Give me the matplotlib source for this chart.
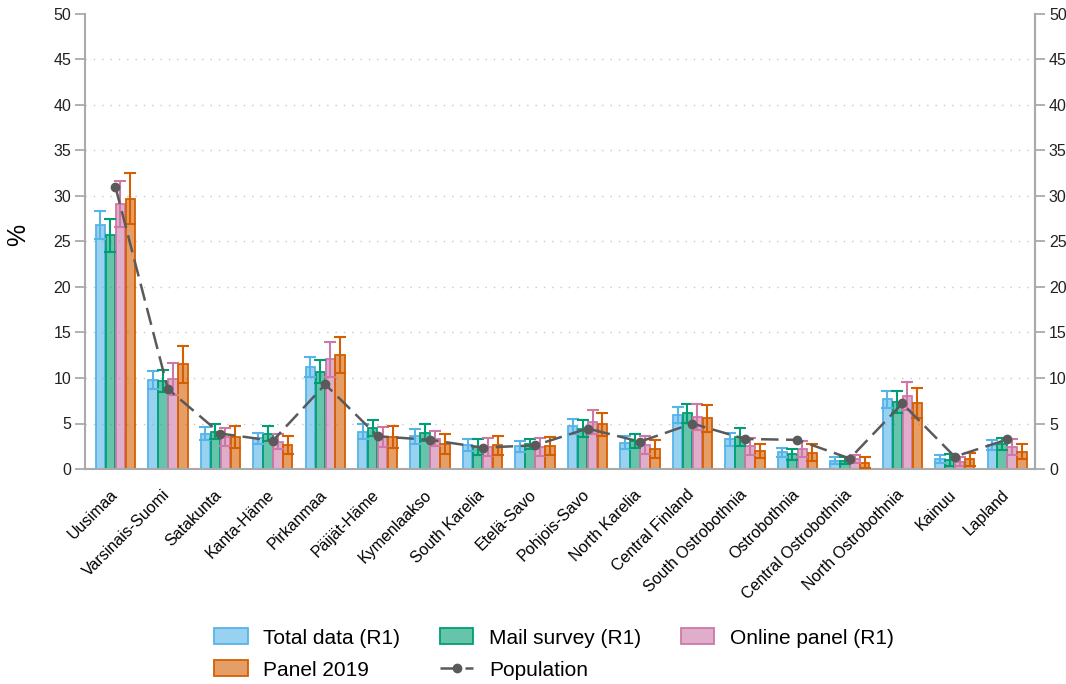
import numpy as np
import matplotlib as mpl
mpl.use('Agg')
import matplotlib.pyplot as plt
import matplotlib.transforms as mtransforms

plt.rcParams['font.family'] = ['Liberation Sans', 'DejaVu Sans']

regions = ["Uusimaa", "Varsinais-Suomi", "Satakunta", "Kanta-Häme", "Pirkanmaa",
           "Päijät-Häme", "Kymenlaakso", "South Karelia", "Etelä-Savo", "Pohjois-Savo",
           "North Karelia", "Central Finland", "South Ostrobothnia", "Ostrobothnia",
           "Central Ostrobothnia", "North Ostrobothnia", "Kainuu", "Lapland"]

total = [26.8, 9.8, 3.9, 3.4, 11.2, 4.1, 3.6, 2.6, 2.5, 4.7, 2.9, 5.95, 3.25, 1.85, 0.9, 7.65, 1.1, 2.65]
total_err = [1.5, 1.0, 0.7, 0.6, 1.1, 0.8, 0.8, 0.65, 0.6, 0.8, 0.7, 0.9, 0.75, 0.5, 0.4, 0.9, 0.45, 0.55]
mail = [25.7, 9.7, 4.1, 3.9, 10.7, 4.5, 4.0, 2.4, 2.75, 4.45, 3.1, 6.1, 3.5, 1.6, 0.9, 7.4, 1.0, 2.75]
mail_err = [1.8, 1.2, 0.8, 0.8, 1.3, 0.85, 0.9, 0.9, 0.6, 0.9, 0.75, 1.05, 1.0, 0.6, 0.4, 1.2, 0.7, 0.7]
online = [29.1, 9.9, 3.55, 3.0, 12.05, 3.55, 3.35, 2.4, 2.4, 5.2, 2.6, 5.7, 2.5, 2.2, 1.1, 8.0, 0.8, 2.4]
online_err = [2.5, 1.8, 1.0, 0.8, 1.9, 1.1, 0.85, 1.0, 1.0, 1.3, 1.0, 1.45, 0.95, 0.9, 0.45, 1.55, 0.5, 0.9]
panel = [29.7, 11.5, 3.55, 2.6, 12.5, 3.55, 2.8, 2.6, 2.5, 4.9, 2.2, 5.55, 2.0, 1.8, 0.7, 7.3, 1.05, 1.9]
panel_err = [2.8, 2.0, 1.2, 1.0, 2.0, 1.2, 1.1, 1.05, 1.0, 1.3, 0.95, 1.5, 0.8, 0.9, 0.6, 1.65, 0.75, 0.85]
population = [31.0, 8.8, 3.9, 3.1, 9.3, 3.6, 3.2, 2.35, 2.6, 4.45, 3.0, 5.0, 3.3, 3.2, 1.15, 7.2, 1.35, 3.25]

series = [
    ("Total data (R1)", total, total_err, "#56B4E9"),
    ("Mail survey (R1)", mail, mail_err, "#009E73"),
    ("Online panel (R1)", online, online_err, "#CC79A7"),
    ("Panel 2019", panel, panel_err, "#D55E00"),
]

fig = plt.figure(figsize=(10.66, 6.84), dpi=100)
ax = fig.add_axes([85 / 1066, 1 - 469 / 684, 950 / 1066, 455 / 684])

x = np.arange(len(regions))
w = 0.18
step = 0.19
handles = {}
for i, (name, vals, errs, col) in enumerate(series):
    pos = x + (i - 1.5) * step
    b = ax.bar(pos, vals, width=w, color=mpl.colors.to_rgba(col, 0.6),
               edgecolor=col, linewidth=1.3, zorder=2, label=name)
    ax.errorbar(pos, vals, yerr=errs, fmt='none', ecolor=col, elinewidth=1.5,
                capsize=4, capthick=1.5, zorder=3)
    handles[name] = b

pop_line, = ax.plot(x, population, color="#5a5a5a", lw=1.8, linestyle=(0, (7, 3)),
                    marker='o', markersize=6, zorder=5, label="Population")

ax.set_ylim(0, 50)
ax.set_xlim(-0.58, len(regions) - 0.47)
ax.set_yticks(range(0, 51, 5))
for yv in range(5, 50, 5):
    ax.axhline(yv, color="#c8c8c8", lw=1, linestyle=(0, (1, 5)), zorder=0)

ax.set_xticks(x)
ax.set_xticklabels(regions, rotation=45, ha='right', rotation_mode='anchor', fontsize=11.5)
ax.tick_params(axis='x', length=0, pad=13)
# nudge the rotated labels so their ends sit under the group centres
shift = mtransforms.ScaledTranslation(-6 / 100, 0, fig.dpi_scale_trans)
for lbl in ax.get_xticklabels():
    lbl.set_transform(lbl.get_transform() + shift)
ax.tick_params(axis='y', direction='out', length=7, width=1.3, color="#aaaaaa",
               labelsize=11.5, labelcolor="#222222", pad=3)

for s in ['left', 'right', 'bottom']:
    ax.spines[s].set_color("#aaaaaa")
    ax.spines[s].set_linewidth(1.5)
ax.spines['top'].set_visible(False)

ax2 = ax.twinx()
ax2.set_ylim(ax.get_ylim())
ax2.set_yticks(range(0, 51, 5))
ax2.tick_params(axis='y', direction='out', length=7, width=1.3, color="#aaaaaa",
                labelsize=11.5, labelcolor="#222222", pad=3)
for s in ['left', 'top', 'bottom']:
    ax2.spines[s].set_visible(False)
ax2.spines['right'].set_color("#aaaaaa")
ax2.spines['right'].set_linewidth(1.5)

fig.text(18 / 1066, 1 - 235 / 684, "%", rotation=90, fontsize=18, va='center', ha='center')

order = [handles["Total data (R1)"], handles["Panel 2019"], handles["Mail survey (R1)"],
         pop_line, handles["Online panel (R1)"]]
labels = ["Total data (R1)", "Panel 2019", "Mail survey (R1)", "Population", "Online panel (R1)"]
fig.legend(order, labels, loc='center', bbox_to_anchor=(554 / 1066, 1 - 654 / 684),
           ncol=3, frameon=False, fontsize=15, handlelength=1.6, handleheight=0.8,
           handletextpad=0.75, columnspacing=1.9, labelspacing=0.62)

fig.savefig("out.png", dpi=100)
